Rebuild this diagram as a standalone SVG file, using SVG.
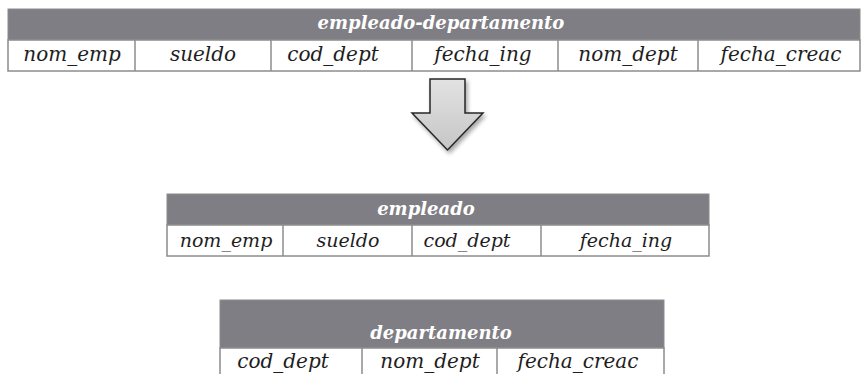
<svg xmlns="http://www.w3.org/2000/svg" width="863" height="374" viewBox="0 0 863 374">
<style>
.hdr{fill:#7f7e84;stroke:#8c8c8c;stroke-width:1}
.row{fill:#ffffff;stroke:#8c8c8c;stroke-width:1.5}
.sep{stroke:#8c8c8c;stroke-width:1.5}
.ht{font-family:"DejaVu Serif",serif;font-style:italic;font-weight:bold;font-size:18px;fill:#ffffff;text-anchor:middle}
.ct{font-family:"DejaVu Serif",serif;font-style:italic;font-size:20px;fill:#1e1e1e;text-anchor:middle}
.ct2{font-family:"DejaVu Serif",serif;font-style:italic;font-size:19px;fill:#1e1e1e;text-anchor:middle}
.arrow{fill:url(#ag);stroke:#262626;stroke-width:1.5;stroke-linejoin:miter}
</style>
<defs>
<linearGradient id="ag" x1="0" y1="0" x2="0" y2="1">
<stop offset="0" stop-color="#e2e2e2"/>
<stop offset="1" stop-color="#c6c6c6"/>
</linearGradient>
<filter id="sh" x="-20%" y="-20%" width="150%" height="150%">
<feGaussianBlur in="SourceAlpha" stdDeviation="2"/>
<feOffset dx="2" dy="3" result="b"/>
<feComponentTransfer><feFuncA type="linear" slope="0.35"/></feComponentTransfer>
<feMerge><feMergeNode/><feMergeNode in="SourceGraphic"/></feMerge>
</filter>
</defs>
<rect width="863" height="374" fill="#ffffff"/>

<g id="empleado-departamento">
<rect class="hdr" x="8" y="9" width="852" height="31"/>
<rect class="row" x="8" y="40" width="852" height="31"/>
<line class="sep" x1="135" y1="40" x2="135" y2="71"/>
<line class="sep" x1="271" y1="40" x2="271" y2="71"/>
<line class="sep" x1="412" y1="40" x2="412" y2="71"/>
<line class="sep" x1="558" y1="40" x2="558" y2="71"/>
<line class="sep" x1="698" y1="40" x2="698" y2="71"/>
<text class="ht" x="441" y="29">empleado-departamento</text>
<text class="ct" x="72" y="61">nom_emp</text>
<text class="ct" x="203" y="61">sueldo</text>
<text class="ct" x="333" y="61">cod_dept</text>
<text class="ct" x="483" y="61">fecha_ing</text>
<text class="ct" x="628" y="61">nom_dept</text>
<text class="ct" x="781" y="61">fecha_creac</text>
</g>

<g id="connectors">
<polygon class="arrow" filter="url(#sh)" points="430,79 465,79 465,113 483,113 447.5,150 412,113 430,113"/>
</g>

<g id="empleado">
<rect class="hdr" x="167" y="194" width="542" height="31"/>
<rect class="row" x="167" y="225" width="542" height="31"/>
<line class="sep" x1="283" y1="225" x2="283" y2="256"/>
<line class="sep" x1="412" y1="225" x2="412" y2="256"/>
<line class="sep" x1="541" y1="225" x2="541" y2="256"/>
<text class="ht" x="426" y="215">empleado</text>
<text class="ct2" x="226" y="247">nom_emp</text>
<text class="ct2" x="348" y="247">sueldo</text>
<text class="ct2" x="467" y="247">cod_dept</text>
<text class="ct2" x="626" y="247">fecha_ing</text>
</g>

<g id="departamento">
<rect class="hdr" x="220" y="300" width="444" height="48"/>
<rect class="row" x="220" y="348" width="444" height="40"/>
<line class="sep" x1="362" y1="348" x2="362" y2="380"/>
<line class="sep" x1="497" y1="348" x2="497" y2="380"/>
<text class="ht" x="441" y="339">departamento</text>
<text class="ct" x="283" y="368">cod_dept</text>
<text class="ct" x="430" y="368">nom_dept</text>
<text class="ct" x="578" y="368">fecha_creac</text>
</g>
</svg>
